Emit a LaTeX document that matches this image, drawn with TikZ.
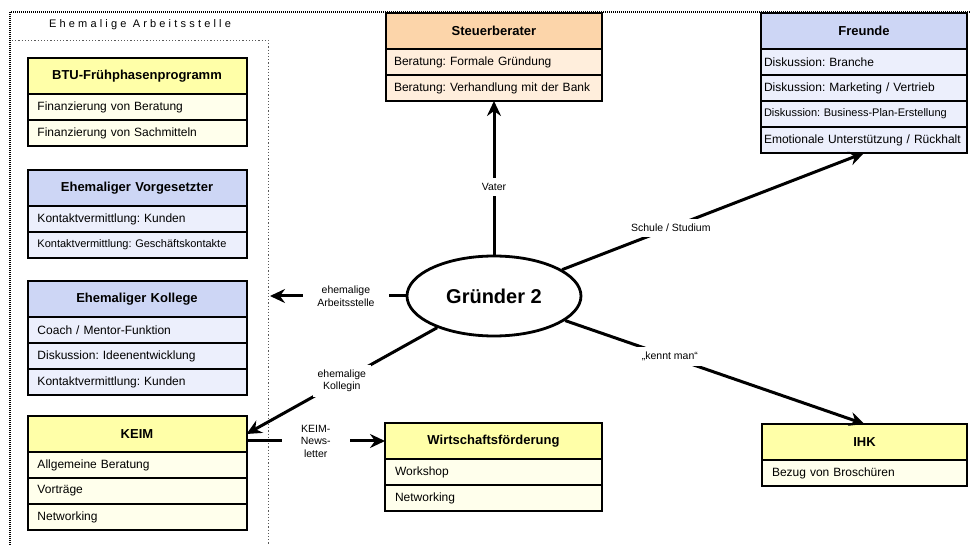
\documentclass[tikz,border=0pt]{standalone}
\usepackage{fontspec}
\setmainfont{Liberation Sans}
\usepackage{tikz}
\usetikzlibrary{positioning,arrows.meta,shapes.geometric}
\frenchspacing

\definecolor{kopfgelb}{HTML}{FFFFA8}
\definecolor{zeilegelb}{HTML}{FFFFEC}
\definecolor{kopfblau}{HTML}{CDD6F5}
\definecolor{zeileblau}{HTML}{ECEFFC}
\definecolor{kopforange}{HTML}{FCD5AA}
\definecolor{zeileorange}{HTML}{FFEEDC}

\begin{document}
\begin{tikzpicture}[x=1pt,y=-1pt,
	kopf/.style={draw,line width=2pt,outer sep=0pt,fill=#1,minimum height=36pt,inner xsep=10pt,text width=199pt,align=center,anchor=north,font=\fontsize{13}{15}\selectfont\bfseries},
	zeile/.style={draw,line width=2pt,outer sep=0pt,fill=#1,minimum height=26pt,inner xsep=10pt,text width=199pt,align=left,font=\fontsize{12}{14}\selectfont},
	klein/.style={font=\fontsize{11}{13}\selectfont},
	pfeil/.style={line width=3pt,-{Stealth[length=15pt,width=14pt,inset=5pt]}},
	bez/.style={fill=white,inner sep=5pt,align=center,font=\fontsize{10.5}{12.5}\selectfont}]
	
	\useasboundingbox (0,0) rectangle (970,545);
	
	% Rahmen
	\draw[line width=1.6pt,dash pattern=on 1pt off 1pt] (970,12) -- (10,12) -- (10,545);
	\draw[gray!70!black,line width=0.9pt,dash pattern=on 1.2pt off 2pt] (12,40) -- (268,40) -- (268,545);
	\node[font=\fontsize{11}{13}\selectfont\addfontfeature{LetterSpace=29}] (titel) at (140,25) {Ehemalige Arbeitsstelle};
	
	\node[kopf=kopfgelb] (btu) at (137,58) {BTU-Frühphasenprogramm};
	\node[zeile=zeilegelb,below=0pt of btu] (btu1) {Finanzierung von Beratung};
	\node[zeile=zeilegelb,below=0pt of btu1] (btu2) {Finanzierung von Sachmitteln};
	
	\node[kopf=kopfblau] (vorg) at (137,170) {Ehemaliger Vorgesetzter};
	\node[zeile=zeileblau,below=0pt of vorg] (vorg1) {Kontaktvermittlung: Kunden};
	\node[zeile=zeileblau,klein,below=0pt of vorg1] (vorg2) {Kontaktvermittlung: Geschäftskontakte};
	
	\node[kopf=kopfblau] (koll) at (137,281) {Ehemaliger Kollege};
	\node[zeile=zeileblau,below=0pt of koll] (koll1) {Coach / Mentor-Funktion};
	\node[zeile=zeileblau,below=0pt of koll1] (koll2) {Diskussion: Ideenentwicklung};
	\node[zeile=zeileblau,below=0pt of koll2] (koll3) {Kontaktvermittlung: Kunden};
	
	\node[kopf=kopfgelb] (keim) at (137,416) {KEIM};
	\node[zeile=zeilegelb,below=0pt of keim] (keim1) {Allgemeine Beratung};
	\node[zeile=zeilegelb,below=0pt of keim1] (keim2) {Vorträge};
	\node[zeile=zeilegelb,below=0pt of keim2] (keim3) {Networking};
	
	\node[kopf=kopforange,inner xsep=8pt,text width=200pt] (steuer) at (494,13) {Steuerberater};
	\node[zeile=zeileorange,inner xsep=8pt,text width=200pt,below=0pt of steuer] (steuer1) {Beratung: Formale Gründung};
	\node[zeile=zeileorange,inner xsep=8pt,text width=200pt,below=0pt of steuer1] (steuer2) {Beratung: Verhandlung mit der Bank};
	
	\node[kopf=kopfblau,inner xsep=3pt,text width=200pt] (freunde) at (864,13) {Freunde};
	\node[zeile=zeileblau,inner xsep=3pt,text width=200pt,below=0pt of freunde] (freunde1) {Diskussion: Branche};
	\node[zeile=zeileblau,inner xsep=3pt,text width=200pt,below=0pt of freunde1] (freunde2) {Diskussion: Marketing / Vertrieb};
	\node[zeile=zeileblau,klein,inner xsep=3pt,text width=200pt,below=0pt of freunde2] (freunde3) {Diskussion: Business-Plan-Erstellung};
	\node[zeile=zeileblau,inner xsep=3pt,text width=200pt,below=0pt of freunde3] (freunde4) {Emotionale Unterstützung / Rückhalt};
	
	\node[kopf=kopfgelb,text width=197pt] (wifoe) at (493.5,423) {Wirtschaftsförderung};
	\node[zeile=zeilegelb,text width=197pt,below=0pt of wifoe] (wifoe1) {Workshop};
	\node[zeile=zeilegelb,text width=197pt,below=0pt of wifoe1] (wifoe2) {Networking};
	
	\node[kopf=kopfgelb,text width=185pt] (ihk) at (864.5,424) {IHK};
	\node[zeile=zeilegelb,text width=185pt,below=0pt of ihk] (ihk1) {Bezug von Broschüren};
	
	\node[ellipse,draw,line width=2.8pt,minimum width=174pt,minimum height=80pt,font=\fontsize{20}{24}\selectfont\bfseries] (gruender) at (494,296) {Gründer 2};
	\coordinate (rand) at (270,296);
	
	\draw[pfeil] (gruender) -- node[bez,pos=0.44]{Vater} (steuer2.south);
	\draw[pfeil] (gruender) -- node[bez,pos=0.36]{Schule / Studium} (freunde4.south);
	\draw[pfeil] (gruender) -- node[bez,pos=0.44,inner xsep=14pt]{ehemalige\\Arbeitsstelle} (rand);
	\draw[pfeil] (gruender) -- node[bez]{ehemalige\\Kollegin} (keim.east);
	\draw[pfeil] (keim.east |- wifoe.west) -- node[bez,inner xsep=19pt]{KEIM-\\News-\\letter} (wifoe.west);
	\draw[pfeil] (gruender) -- node[bez,pos=0.35]{„kennt man“} (ihk.north);
	
\end{tikzpicture}
\end{document}
